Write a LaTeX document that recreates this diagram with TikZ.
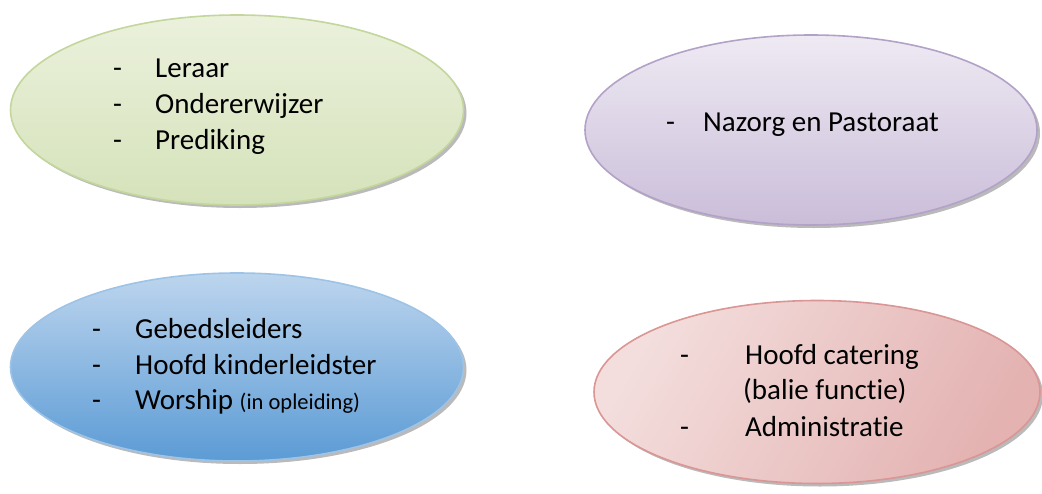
\documentclass[tikz,border=0pt]{standalone}
\usepackage{fontspec}
\setmainfont[Ligatures={NoCommon}]{Carlito}
\usetikzlibrary{shapes.geometric,shadows}
\definecolor{gTop}{HTML}{EBF1DC}
\definecolor{gBot}{HTML}{D5E2BA}
\definecolor{gLine}{HTML}{C3D69B}
\definecolor{pTop}{HTML}{EEEAF3}
\definecolor{pBot}{HTML}{CABDD9}
\definecolor{pLine}{HTML}{B3A2C7}
\definecolor{bTop}{HTML}{BDD5EE}
\definecolor{bBot}{HTML}{5B9BD5}
\definecolor{bLine}{HTML}{9DC3E6}
\definecolor{rLeft}{HTML}{F3DEDD}
\definecolor{rRight}{HTML}{E3B2B1}
\definecolor{rLine}{HTML}{D99694}
\tikzset{
  oval/.style={ellipse, line width=1.6pt, inner sep=0pt,
    drop shadow={shadow xshift=3pt, shadow yshift=-3pt, opacity=0.45, fill=black!60}},
  txt/.style={anchor=base west, inner sep=0pt, font=\fontsize{29}{35}\selectfont},
}
\newcommand{\smalltxt}[1]{{\fontsize{22.5}{27}\selectfont #1}}
\begin{document}
\begin{tikzpicture}[x=1pt,y=-1pt]
\useasboundingbox (0,0) rectangle (1042,493);
% ellipses
\node[oval, draw=gLine, top color=gTop, bottom color=gBot,
  minimum width=453pt, minimum height=190pt] (green) at (237,110) {};
\node[oval, draw=pLine, top color=pTop, bottom color=pBot,
  minimum width=452pt, minimum height=190pt] (purple) at (811,130) {};
\node[oval, draw=bLine, top color=bTop, bottom color=bBot,
  minimum width=453pt, minimum height=188pt] (blue) at (237,367) {};
\node[oval, draw=rLine, left color=rLeft, right color=rRight, shading angle=60,
  minimum width=446pt, minimum height=183pt] (red) at (817,392) {};
% green texts
\node[txt] (g1d) at (113,77) {-};
\node[txt] (g1) at (155,77) {Leraar};
\node[txt] (g2d) at (113,113) {-};
\node[txt] (g2) at (155,113) {Ondererwijzer};
\node[txt] (g3d) at (113,149) {-};
\node[txt] (g3) at (155,149) {Prediking};
% purple text
\node[txt] (p1d) at (666,131) {-};
\node[txt] (p1) at (703,131) {Nazorg en Pastoraat};
% blue texts
\node[txt] (b1d) at (92,338) {-};
\node[txt] (b1) at (135,338) {Gebedsleiders};
\node[txt] (b2d) at (92,374) {-};
\node[txt] (b2) at (135,374) {Hoofd kinderleidster};
\node[txt] (b3d) at (92,409) {-};
\node[txt] (b3) at (135,409) {Worship \smalltxt{(in opleiding)}};
% red texts
\node[txt] (r1d) at (680,364) {-};
\node[txt] (r1) at (745,364) {Hoofd catering};
\node[txt] (r2) at (743,399) {(balie functie)};
\node[txt] (r3d) at (680,436) {-};
\node[txt] (r3) at (745,436) {Administratie};
\end{tikzpicture}
\end{document}
